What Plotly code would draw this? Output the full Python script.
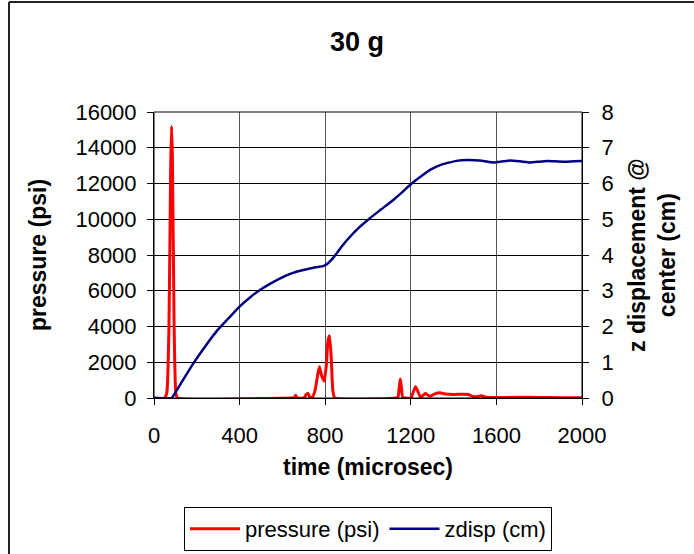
import plotly.graph_objects as go

# pressure series (psi) vs time (microsec)
t_p = [0, 50, 60, 70, 78, 82, 86, 94, 102, 110,
       640, 655, 662, 670, 700, 712, 720, 728, 740, 752, 765, 773, 782, 795, 805, 813, 820, 828, 836, 845,
       1130, 1140, 1146, 1151, 1156, 1162, 1172, 1200, 1212, 1222, 1232, 1245, 1258, 1269, 1280, 1292,
       1310, 1336, 1360, 1400, 1440, 1470, 1490, 1510, 1530, 1550, 1600, 1700, 1800, 1900, 2000]
pressure = [0, 0, 300, 4000, 13000, 15200, 13500, 4000, 300, 0,
            0, 0, 150, 0, 0, 200, 250, 50, 50, 400, 1300, 1750, 1300, 950, 1800, 3200, 3480, 2300, 400, 0,
            0, 50, 600, 1060, 600, 50, 0, 0, 350, 630, 400, 50, 150, 260, 150, 100,
            220, 290, 230, 200, 210, 200, 80, 80, 120, 50, 30, 40, 30, 20, 10]

# z displacement (cm) vs time (microsec)
t_z = [0, 82, 90, 130, 184, 240, 293, 350, 402, 450, 495, 550, 604, 650, 698, 750, 790, 805, 830, 854,
       880, 916, 960, 1009, 1060, 1118, 1160, 1204, 1250, 1290, 1340, 1383, 1420, 1461, 1500, 1539,
       1586, 1630, 1664, 1710, 1757, 1800, 1835, 1870, 1913, 1960, 2000]
zdisp = [0, 0, 0.06, 0.45, 0.97, 1.45, 1.87, 2.24, 2.57, 2.82, 3.02, 3.22, 3.39, 3.50, 3.58, 3.65, 3.69,
         3.73, 3.87, 4.05, 4.26, 4.51, 4.78, 5.03, 5.27, 5.54, 5.76, 6.0, 6.21, 6.38, 6.52, 6.59, 6.64,
         6.66, 6.65, 6.63, 6.59, 6.62, 6.64, 6.62, 6.59, 6.61, 6.63, 6.62, 6.61, 6.62, 6.63]

x_ticks = [0, 400, 800, 1200, 1600, 2000]

FONT = "Arial, Liberation Sans, sans-serif"
TICK = 22
ATITLE = 23

fig = go.Figure()
fig.add_trace(go.Scatter(x=t_p, y=pressure, mode="lines", name="pressure (psi)",
                         line=dict(color="#FF0000", width=3, shape="spline", smoothing=0.5)))
fig.add_trace(go.Scatter(x=t_z, y=zdisp, mode="lines", name="zdisp (cm)", yaxis="y2",
                         line=dict(color="#000080", width=2.5, shape="spline", smoothing=0.6)))

L, R, T, B = 154, 112, 112, 156
W, H = 694, 554
pw, ph = W - L - R, H - T - B

def px(x):
    return (x - L) / pw

def py(y):
    return (H - B - y) / ph

axis_common = dict(showline=True, linecolor="black", linewidth=1, ticks="outside", ticklen=6,
                   tickcolor="black", tickfont=dict(family=FONT, size=TICK, color="black"),
                   zeroline=False, mirror=False, tickformat="d", automargin=False)

def ann(text, x, y, size, angle=0):
    return dict(text=text, x=px(x), y=py(y), xref="paper", yref="paper", showarrow=False,
                xanchor="center", yanchor="middle", textangle=angle,
                font=dict(family=FONT, size=size, color="black"))

fig.update_layout(
    width=W, height=H,
    margin=dict(l=L, r=R, t=T, b=B, autoexpand=False),
    paper_bgcolor="white", plot_bgcolor="white",
    showlegend=True,
    legend=dict(orientation="h", x=px(368), xanchor="center", y=py(529), yanchor="middle",
                bordercolor="black", borderwidth=1, font=dict(family=FONT, size=22, color="black"),
                itemwidth=50, tracegroupgap=0),
    xaxis=dict(range=[0, 2000], tickvals=x_ticks, showgrid=True, gridcolor="#555555", gridwidth=1,
               ticklabelstandoff=12, **axis_common),
    yaxis=dict(range=[0, 16000], dtick=2000, showgrid=True, gridcolor="black", gridwidth=1,
               ticklabelstandoff=6, **axis_common),
    yaxis2=dict(range=[0, 8], dtick=1, overlaying="y", side="right", showgrid=False,
                ticklabelstandoff=8, **axis_common),
    annotations=[
        ann("<b>30 g</b>", 357, 42, 27),
        ann("<b>pressure (psi)</b>", 38, 255, ATITLE, -90),
        ann("<b>z displacement @<br>center (cm)</b>", 652, 255, ATITLE, -90),
        ann("<b>time (microsec)</b>", 368, 467, ATITLE),
    ],
    shapes=[
        dict(type="rect", xref="paper", yref="paper", x0=0, x1=1, y0=0, y1=1,
             line=dict(color="black", width=1)),
        dict(type="line", xref="paper", yref="paper", x0=px(9), x1=px(700), y0=py(2), y1=py(2),
             line=dict(color="#222222", width=2)),
        dict(type="line", xref="paper", yref="paper", x0=px(9), x1=px(9), y0=py(2), y1=py(560),
             line=dict(color="#222222", width=2)),
    ],
)

fig.write_html("out.html")
